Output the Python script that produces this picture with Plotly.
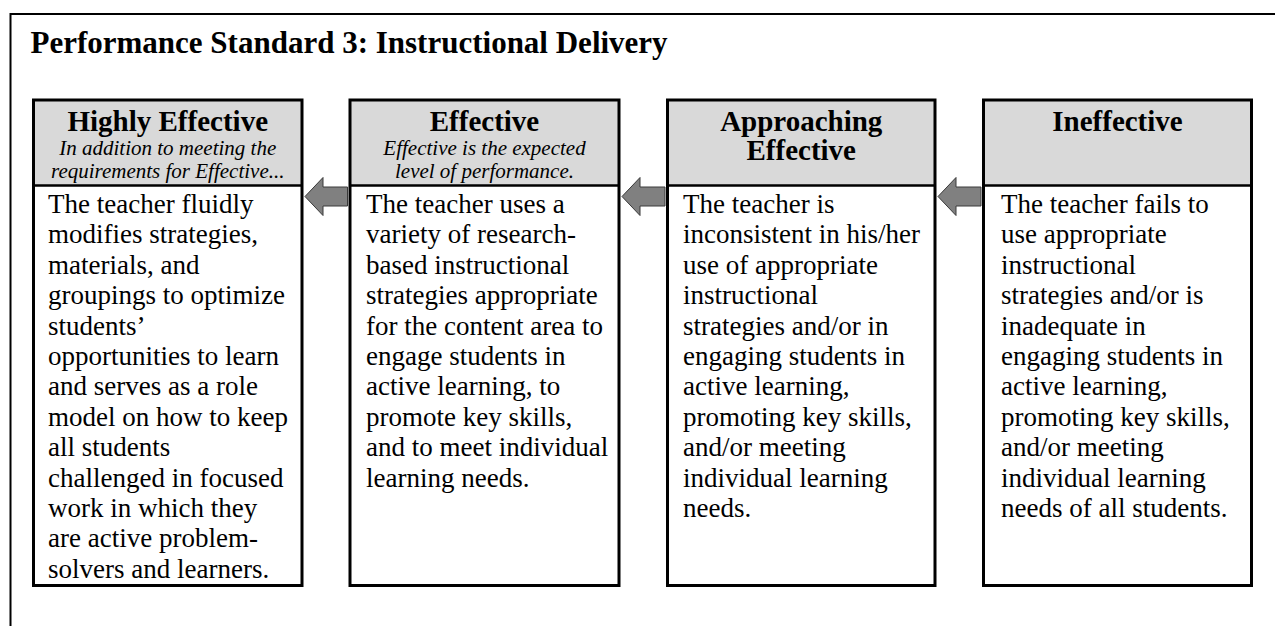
import plotly.graph_objects as go

# ---------------- data ----------------
title = "Performance Standard 3: Instructional Delivery"

header_lines = [
    ["Highly Effective"],
    ["Effective"],
    ["Approaching", "Effective"],
    ["Ineffective"],
]

subtitle_lines = [
    ["In addition to meeting the", "requirements for Effective..."],
    ["Effective is the expected", "level of performance."],
    [],
    [],
]

body_lines = [
    ["The teacher fluidly", "modifies strategies,", "materials, and",
     "groupings to optimize", "students\u2019", "opportunities to learn",
     "and serves as a role", "model on how to keep", "all students",
     "challenged in focused", "work in which they", "are active problem-",
     "solvers and learners."],
    ["The teacher uses a", "variety of research-", "based instructional",
     "strategies appropriate", "for the content area to", "engage students in",
     "active learning, to", "promote key skills,", "and to meet individual",
     "learning needs."],
    ["The teacher is", "inconsistent in his/her", "use of appropriate",
     "instructional", "strategies and/or in", "engaging students in",
     "active learning,", "promoting key skills,", "and/or meeting",
     "individual learning", "needs."],
    ["The teacher fails to", "use appropriate", "instructional",
     "strategies and/or is", "inadequate in", "engaging students in",
     "active learning,", "promoting key skills,", "and/or meeting",
     "individual learning", "needs of all students."],
]

# ---------------- layout constants (pixel space) ----------------
W, H = 1275, 626
FONT = "Liberation Serif, Times New Roman, serif"
box_left = [33.5, 350.0, 667.5, 983.5]
box_right = [302.0, 619.0, 935.0, 1251.5]
box_top, box_bottom, divider_y = 100.0, 585.5, 185.5
text_left = [48.0, 366.0, 683.0, 1001.0]

TITLE_SIZE, HEAD_SIZE, SUB_SIZE, BODY_SIZE = 31, 29, 21, 27
body_base0, body_step = 213.0, 30.4
head_base0, head_step = 130.5, 29.4
sub_base0, sub_step = 154.5, 23.3


def mid_y(baseline, size):
    # plotly "middle" text position puts baseline ~0.25em below the anchor
    return baseline - 0.25 * size


fig = go.Figure()

shapes = []
# outer frame (top and left edges)
shapes.append(dict(type="path", path=f"M 10.5 {H} L 10.5 14 L {W} 14",
                   line=dict(color="black", width=2)))

for i in range(4):
    l, r = box_left[i], box_right[i]
    shapes.append(dict(type="rect", x0=l, x1=r, y0=box_top, y1=divider_y,
                       fillcolor="#d9d9d9", line=dict(width=0), layer="below"))
    shapes.append(dict(type="line", x0=l, x1=r, y0=divider_y, y1=divider_y,
                       line=dict(color="black", width=2.5)))
    shapes.append(dict(type="rect", x0=l, x1=r, y0=box_top, y1=box_bottom,
                       line=dict(color="black", width=3)))

# arrows pointing left, between boxes
cy, head_h, shaft_h = 196.5, 19.0, 9.5
for i in range(3):
    tip = box_right[i] + 3
    base = tip + 18
    tail = box_left[i + 1] - 2.5
    p = (f"M {tip} {cy} L {base} {cy - head_h} L {base} {cy - shaft_h} "
         f"L {tail} {cy - shaft_h} L {tail} {cy + shaft_h} L {base} {cy + shaft_h} "
         f"L {base} {cy + head_h} Z")
    shapes.append(dict(type="path", path=p, fillcolor="#808080",
                       line=dict(color="#3a3a3a", width=1)))

# title
fig.add_trace(go.Scatter(x=[30.5], y=[mid_y(53.3, TITLE_SIZE)], mode="text",
                         text=[f"<b>{title}</b>"], textposition="middle right",
                         textfont=dict(family=FONT, size=TITLE_SIZE, color="black"),
                         hoverinfo="skip", showlegend=False))

for i in range(4):
    cx = (box_left[i] + box_right[i]) / 2
    hl = header_lines[i]
    fig.add_trace(go.Scatter(
        x=[cx] * len(hl),
        y=[mid_y(head_base0 + k * head_step, HEAD_SIZE) for k in range(len(hl))],
        mode="text", text=[f"<b>{t}</b>" for t in hl], textposition="middle center",
        textfont=dict(family=FONT, size=HEAD_SIZE, color="black"),
        hoverinfo="skip", showlegend=False))
    sl = subtitle_lines[i]
    if sl:
        fig.add_trace(go.Scatter(
            x=[cx] * len(sl),
            y=[mid_y(sub_base0 + k * sub_step, SUB_SIZE) for k in range(len(sl))],
            mode="text", text=[f"<i>{t}</i>" for t in sl], textposition="middle center",
            textfont=dict(family=FONT, size=SUB_SIZE, color="black"),
            hoverinfo="skip", showlegend=False))
    bl = body_lines[i]
    fig.add_trace(go.Scatter(
        x=[text_left[i]] * len(bl),
        y=[mid_y(body_base0 + k * body_step, BODY_SIZE) for k in range(len(bl))],
        mode="text", text=bl, textposition="middle right",
        textfont=dict(family=FONT, size=BODY_SIZE, color="black"),
        hoverinfo="skip", showlegend=False))

fig.update_layout(
    width=W, height=H, margin=dict(l=0, r=0, t=0, b=0),
    paper_bgcolor="white", plot_bgcolor="white", shapes=shapes,
    xaxis=dict(range=[0, W], visible=False, fixedrange=True),
    yaxis=dict(range=[H, 0], visible=False, fixedrange=True),
    showlegend=False,
)

fig.write_html(
    "out.html",
    config={"displayModeBar": False},
    post_script="document.body.style.margin='0';document.body.style.overflow='hidden';",
)
